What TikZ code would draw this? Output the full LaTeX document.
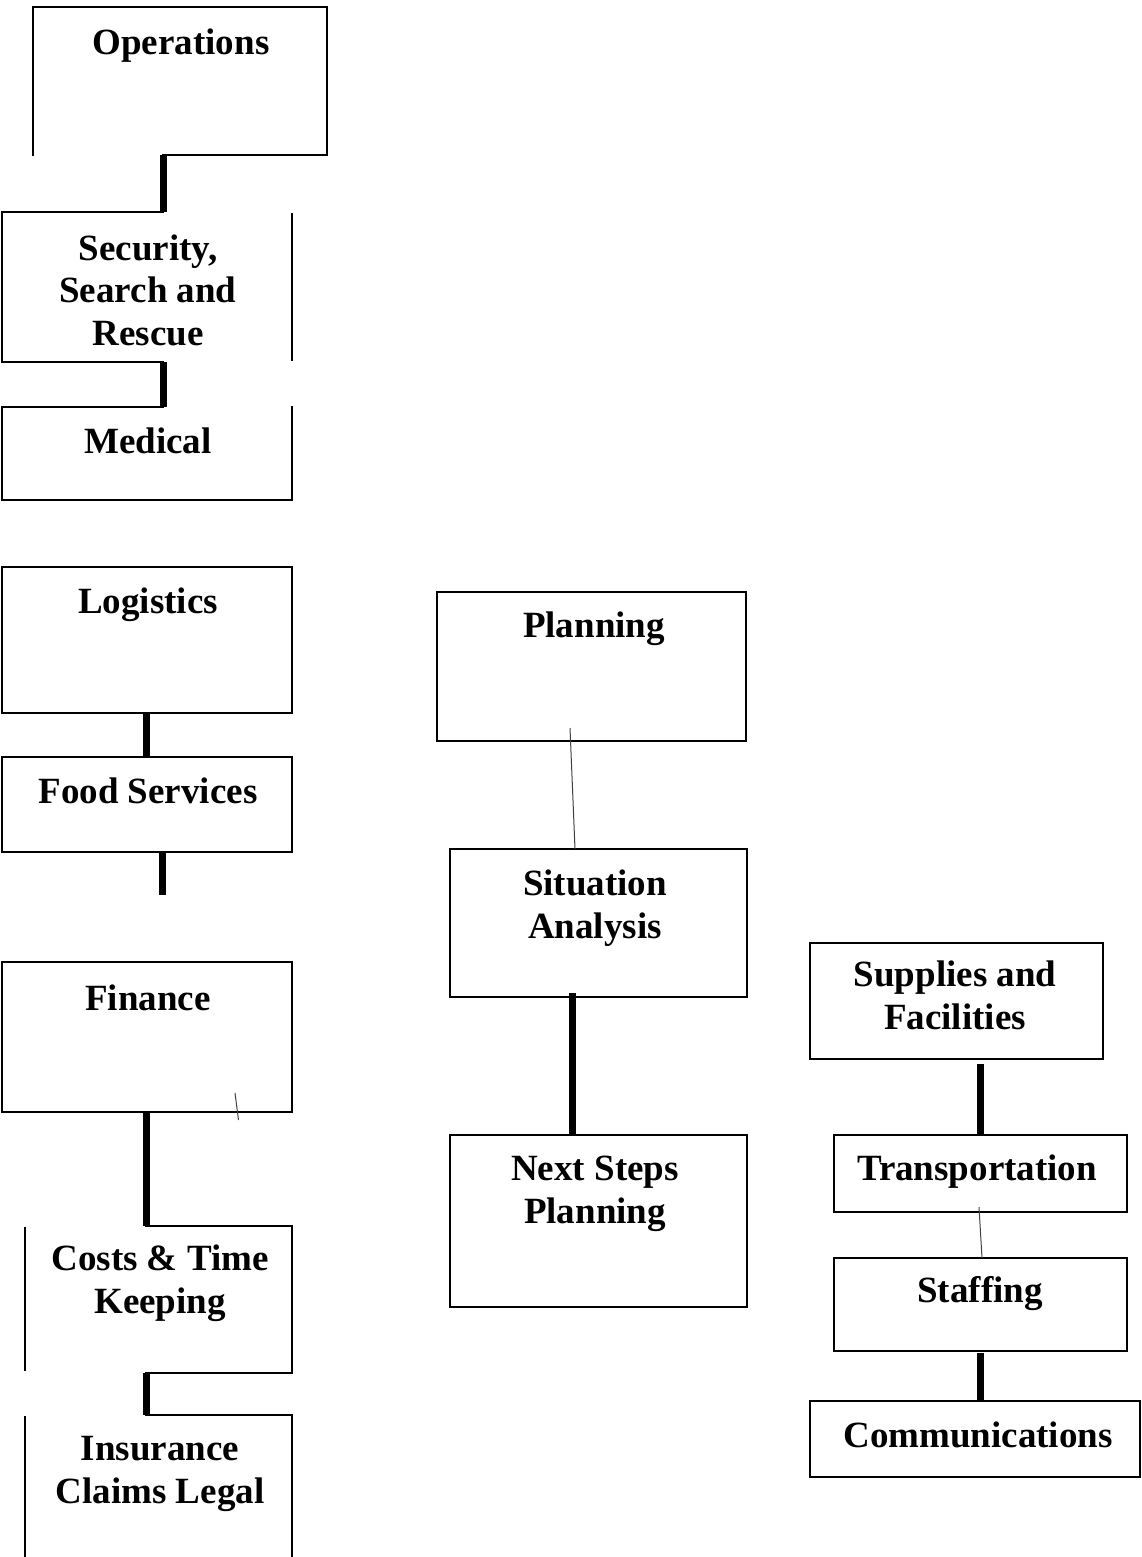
\documentclass[tikz,border=0pt]{standalone}
\usepackage{fontspec}
\setmainfont{Liberation Serif}
\begin{document}
\begin{tikzpicture}[x=1pt,y=-1pt,
  boxshape/.style={rectangle, inner sep=0pt, outer sep=0pt, anchor=north west},
  fullbox/.style={boxshape, draw, line width=2pt},
  ghostbox/.style={boxshape, draw=none},
  edge/.style={line width=2pt, line cap=rect},
  heavy/.style={line width=7pt},
  faint/.style={line width=1pt, black!75},
  lbl/.style={font=\bfseries\fontsize{37}{42.5}\selectfont, align=center, anchor=base, inner sep=0pt}]
\useasboundingbox (0,0) rectangle (1142,1557);

% ---- left column: Operations group
\node[ghostbox, minimum width=294pt, minimum height=148pt] (ops) at (33,7) {};
\draw[edge] ([xshift=130pt]ops.south west) -- (ops.south east) -- (ops.north east) -- (ops.north west) -- (ops.south west);
\node[lbl] (opsl) at (181,55) {Operations};

\node[ghostbox, minimum width=290pt, minimum height=150pt] (sec) at (2,212) {};
\draw[edge] ([xshift=161pt]sec.north west) -- (sec.north west) -- (sec.south west) -- ([xshift=161pt]sec.south west);
\draw[edge] ([yshift=-2pt]sec.north east) -- ([yshift=2pt]sec.south east);
\node[lbl] (secl) at (148,345) {Security,\\Search and\\Rescue};

\node[ghostbox, minimum width=290pt, minimum height=93pt] (med) at (2,407) {};
\draw[edge] ([xshift=161pt]med.north west) -- (med.north west) -- (med.south west) -- (med.south east) -- (med.north east);
\node[lbl] (medl) at (148,453) {Medical};

\draw[heavy] ([xshift=130pt]ops.south west) -- ([xshift=161pt]sec.north west);
\draw[heavy] ([xshift=161pt]sec.south west) -- ([xshift=161pt]med.north west);

% ---- Logistics group
\node[fullbox, minimum width=290pt, minimum height=146pt] (log) at (2,567) {};
\node[lbl] (logl) at (148,613) {Logistics};
\node[fullbox, minimum width=290pt, minimum height=95pt] (food) at (2,757) {};
\node[lbl] (foodl) at (148,803) {Food Services};
\coordinate (foodend) at (162,895);
\draw[heavy] ([xshift=144pt]log.south west) -- ([xshift=144pt]food.north west);
\draw[heavy] ([xshift=160pt]food.south west) -- (foodend);

% ---- Finance group
\node[fullbox, minimum width=290pt, minimum height=150pt] (fin) at (2,962) {};
\node[lbl] (finl) at (148,1010) {Finance};
\coordinate (ticka) at (235,1093);
\coordinate (tickb) at (238.5,1120);
\draw[faint] (ticka) -- (tickb);

\node[ghostbox, minimum width=267pt, minimum height=147pt] (costs) at (25,1226) {};
\draw[edge] ([xshift=121pt]costs.north west) -- (costs.north east) -- (costs.south east) -- ([xshift=121pt]costs.south west);
\draw[edge] ([yshift=-2pt]costs.north west) -- ([yshift=3pt]costs.south west);
\node[lbl] (costsl) at (160,1313) {Costs \& Time\\Keeping};

\node[ghostbox, minimum width=267pt, minimum height=145pt] (ins) at (25,1415) {};
\draw[edge] ([xshift=121pt]ins.north west) -- (ins.north east) -- ([yshift=-5pt]ins.south east);
\draw[edge] ([yshift=-2pt]ins.north west) -- ([yshift=-5pt]ins.south west);
\node[lbl] (insl) at (160,1503) {Insurance\\Claims Legal};

\draw[heavy] ([xshift=144pt]fin.south west) -- ([xshift=121pt]costs.north west);
\draw[heavy] ([xshift=121pt]costs.south west) -- ([xshift=121pt]ins.north west);

% ---- Planning group
\node[fullbox, minimum width=309pt, minimum height=149pt] (plan) at (437,592) {};
\node[lbl] (planl) at (594,637) {Planning};
\node[fullbox, minimum width=297pt, minimum height=148pt] (sit) at (450,849) {};
\node[lbl] (sitl) at (595,938) {Situation\\Analysis};
\node[fullbox, minimum width=297pt, minimum height=172pt] (next) at (450,1135) {};
\node[lbl] (nextl) at (595,1223) {Next Steps\\Planning};
\draw[faint] ([xshift=133pt,yshift=13pt]plan.south west) -- ([xshift=125pt]sit.north west);
\draw[heavy] ([xshift=122pt,yshift=4pt]sit.south west) -- ([xshift=122pt]next.north west);

% ---- right column
\node[fullbox, minimum width=293pt, minimum height=116pt] (sup) at (810,943) {};
\node[lbl] (supl) at (955,1029) {Supplies and\\Facilities};
\node[fullbox, minimum width=293pt, minimum height=77pt] (trans) at (834,1135) {};
\node[lbl] (transl) at (977,1180) {Transportation};
\node[fullbox, minimum width=293pt, minimum height=93pt] (staff) at (834,1258) {};
\node[lbl] (staffl) at (980,1302) {Staffing};
\node[fullbox, minimum width=330pt, minimum height=76pt] (comm) at (810,1401) {};
\node[lbl] (comml) at (978,1447) {Communications};
\draw[heavy] ([xshift=170pt,yshift=-5pt]sup.south west) -- ([xshift=146pt]trans.north west);
\draw[faint] ([xshift=145pt,yshift=5pt]trans.south west) -- ([xshift=148pt]staff.north west);
\draw[heavy] ([xshift=146pt,yshift=-2pt]staff.south west) -- ([xshift=170pt]comm.north west);
\end{tikzpicture}
\end{document}
